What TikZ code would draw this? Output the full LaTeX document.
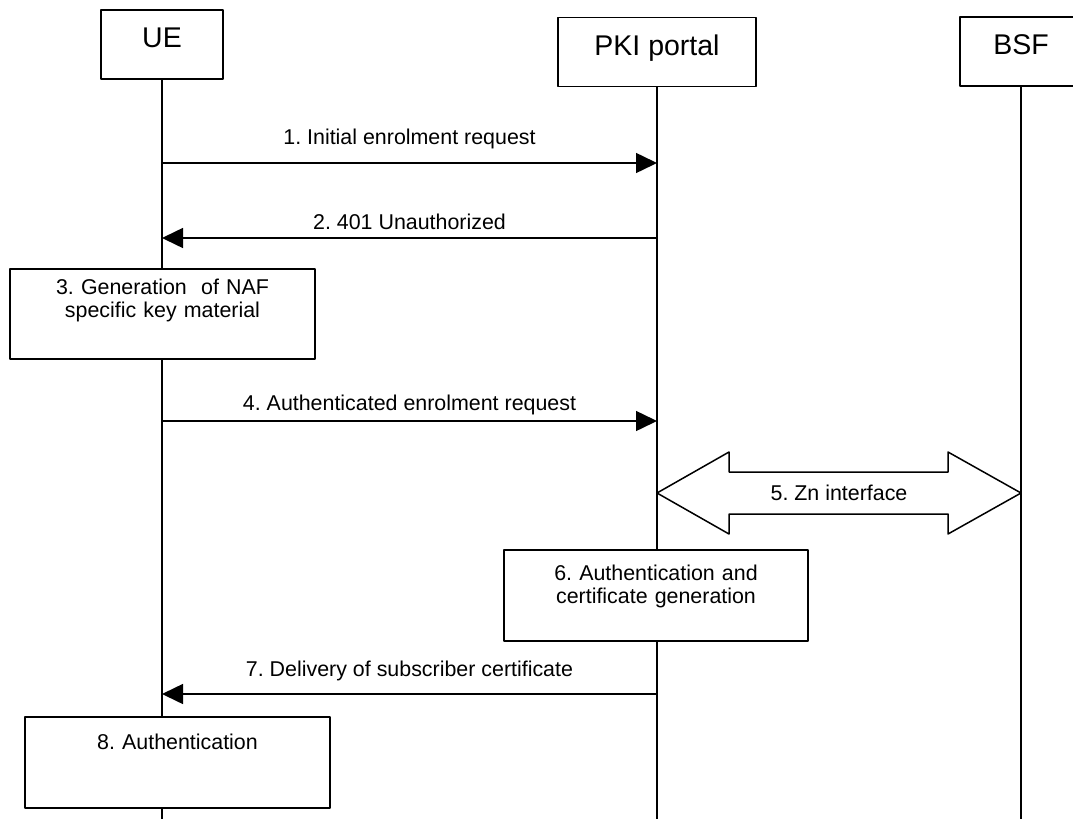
\documentclass[tikz,border=0pt]{standalone}
\usepackage{fontspec}
\setmainfont{Liberation Sans}
\usetikzlibrary{arrows.meta}
\frenchspacing
\newcommand\hdrfont{\fontsize{28.5}{34}\selectfont}
\newcommand\msgfont{\fontsize{21.4}{23}\selectfont}
\tikzset{
  entity/.style={draw,fill=white,minimum width=122pt,minimum height=69pt,font=\hdrfont,text height=20pt,text depth=14pt},
  procbox/.style={draw,fill=white,inner sep=0pt,text width=305pt,align=center,font=\msgfont},
  msg/.style={-{Triangle[length=21pt,width=20pt]}},
  msglabel/.style={font=\msgfont,inner sep=0pt,text depth=0pt}
}
\begin{document}
\begin{tikzpicture}[x=1pt,y=-1pt,line width=1.5pt,line join=round]
\useasboundingbox (0,0) rectangle (1073,819);
\node[entity] (ue) at (162,44.5) {UE};
\node[entity,minimum width=198pt] (pki) at (657,52) {PKI portal};
\node[entity] (bsf) at (1021,51.5) {BSF};
\coordinate (bottom) at (0,819);
\draw (ue) -- (ue |- bottom) (pki) -- (pki |- bottom) (bsf) -- (bsf |- bottom);
\foreach \n/\y in {1/163,2/238,4/421,7/694}{
  \coordinate (ue\n) at (ue |- 0,\y);
  \coordinate (pki\n) at (pki |- 0,\y);
}
\draw[msg] (ue1) -- node[msglabel,above=18pt] {1. Initial enrolment request} (pki1);
\draw[msg] (pki2) -- node[msglabel,above=8pt] {2. 401 Unauthorized} (ue2);
\node[procbox,text height=25.7pt,text depth=64.3pt] (gen) at (162.5,314) {3. Generation\ \ of NAF\\specific key material};
\draw[msg] (ue4) -- node[msglabel,above=10pt] {4. Authenticated enrolment request} (pki4);
% Zn interface
\coordinate (zn1) at (pki |- 0,493);
\coordinate (zn2) at (bsf |- 0,493);
\draw[fill=white] (zn1) -- ++(72,-41) -- ++(0,20) -- ++(219,0) -- ++(0,-20) -- (zn2)
  -- ++(-73,41) -- ++(0,-20) -- ++(-219,0) -- ++(0,20) -- cycle;
\path (zn1) -- node[font=\msgfont] (zn) {5. Zn interface} (zn2);
\node[procbox,text width=304pt,text height=30.7pt,text depth=60.3pt] (cert) at (656,595.5) {6. Authentication and\\certificate generation};
\draw[msg] (pki7) -- node[msglabel,above=17pt] {7. Delivery of subscriber certificate} (ue7);
\node[procbox,text height=32.7pt,text depth=58.3pt] (auth) at (177.5,762.5) {8. Authentication};
\end{tikzpicture}
\end{document}
